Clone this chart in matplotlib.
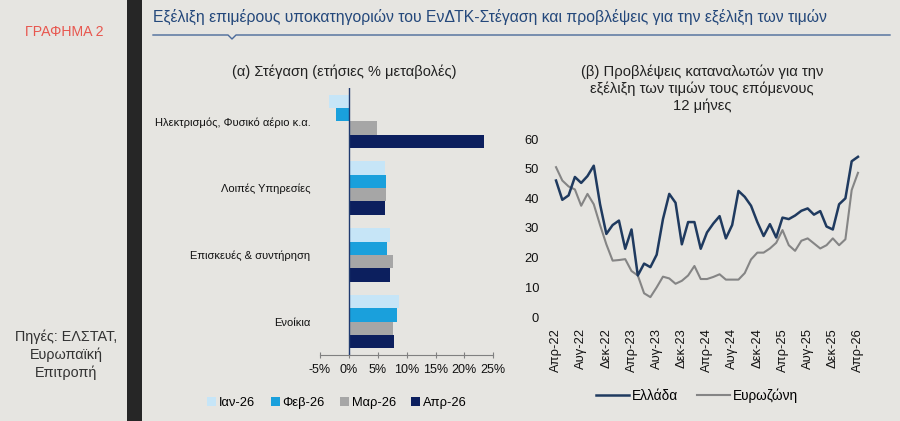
import numpy as np
import matplotlib.pyplot as plt
from matplotlib.patches import Rectangle, Patch
from matplotlib.lines import Line2D

plt.rcParams['font.family'] = ['Liberation Sans', 'DejaVu Sans']

BG = '#e6e5e1'

# (a) housing components, annual % change
categories = ['Ηλεκτρισμός, Φυσικό αέριο κ.α.', 'Λοιπές Υπηρεσίες',
              'Επισκευές & συντήρηση', 'Ενοίκια']
months = ['Ιαν-26', 'Φεβ-26', 'Μαρ-26', 'Απρ-26']
jan26 = [-3.5, 6.2, 7.1, 8.7]
feb26 = [-2.2, 6.4, 6.6, 8.3]
mar26 = [4.9, 6.5, 7.7, 7.6]
apr26 = [23.4, 6.2, 7.2, 7.8]
bar_colors = ['#c6e5f7', '#1aa0dc', '#a6a6a6', '#0c1f5e']

# (b) consumer price expectations, monthly Apr-22 .. Apr-26
greece = [46, 39.5, 41, 47.2, 45.2, 47.5, 51, 38, 28, 31,
          32.5, 23, 29.5, 14, 18, 16.8, 21, 33, 41.5, 38.5,
          24.5, 32, 32, 23, 28.5, 31.5, 34, 26.5, 31, 42.5,
          40.5, 37.5, 32, 27.3, 31.3, 26.8, 33.5, 33, 34.2, 35.8,
          36.6, 34.5, 35.7, 30.5, 29.5, 38, 40, 52.5, 54]
euro = [50.5, 46, 44, 43, 37.5, 41.5, 38, 31, 24.5, 19,
        19.2, 19.5, 15.5, 14, 8, 6.7, 10, 13.6, 13, 11.2,
        12.2, 14, 17.2, 12.8, 12.8, 13.5, 14.4, 12.6, 12.6, 12.6,
        14.8, 19.4, 21.7, 21.7, 23.1, 25, 29.3, 24.2, 22.3, 25.7,
        26.5, 24.8, 23.1, 24.2, 26.5, 24.2, 26.2, 42.8, 48.6]
xtick_labels = ['Απρ-22', 'Αυγ-22', 'Δεκ-22', 'Απρ-23', 'Αυγ-23', 'Δεκ-23',
                'Απρ-24', 'Αυγ-24', 'Δεκ-24', 'Απρ-25', 'Αυγ-25', 'Δεκ-25',
                'Απρ-26']

fig = plt.figure(figsize=(9, 4.21), dpi=100, facecolor=BG)

# side strip and header
fig.patches.append(Rectangle((127 / 900, 0), 15 / 900, 1, transform=fig.transFigure,
                             facecolor='#262626', edgecolor='none'))
fig.text(64 / 900, 1 - 32 / 421, 'ΓΡΑΦΗΜΑ 2', color='#e8574f', fontsize=10.2,
         ha='center', va='center')
fig.text(66 / 900, 1 - 355 / 421, 'Πηγές: ΕΛΣΤΑΤ,\nΕυρωπαϊκή\nΕπιτροπή', color='#333333',
         fontsize=10.4, ha='center', va='center', linespacing=1.3)
fig.text(153 / 900, 1 - 17 / 421,
         'Εξέλιξη επιμέρους υποκατηγοριών του ΕνΔΤΚ-Στέγαση και προβλέψεις για την εξέλιξη των τιμών',
         color='#24487b', fontsize=11.3, ha='left', va='center')
ux = np.array([153, 228, 232, 236, 890]) / 900
uy = 1 - np.array([35, 35, 39, 35, 35]) / 421
fig.lines.append(Line2D(ux, uy, transform=fig.transFigure, color='#4a6a9a', lw=1))

# (a) bar chart
ax1 = fig.add_axes([320 / 900, 1 - 355 / 421, 173.3 / 900, 267 / 421])
ax1.set_facecolor(BG)
y = np.arange(len(categories))
h = 0.2
for k, (vals, lab) in enumerate(zip([jan26, feb26, mar26, apr26], months)):
    ax1.barh(y - 0.3 + k * h, vals, height=h, color=bar_colors[k], label=lab)
ax1.set_ylim(3.5, -0.5)
ax1.set_xlim(-5, 25)
ax1.axvline(0, color='#1f3a6f', lw=1)
ax1.set_yticks(y)
ax1.set_yticklabels(categories, fontsize=8, color='#111111')
ax1.tick_params(axis='y', length=0, pad=7)
ax1.set_xticks(np.arange(-5, 26, 5))
ax1.set_xticklabels([f'{v}%' for v in range(-5, 26, 5)], fontsize=9, color='#111111')
ax1.tick_params(axis='x', direction='inout', length=5, color='#808080', pad=4)
for s in ['top', 'right', 'left']:
    ax1.spines[s].set_visible(False)
ax1.spines['bottom'].set_color('#808080')
fig.text(344 / 900, 1 - 72 / 421, '(α) Στέγαση (ετήσιες % μεταβολές)', fontsize=10.5,
         color='#222222', ha='center', va='center')
handles = [Patch(facecolor=c, edgecolor='none') for c in bar_colors]
fig.legend(handles, months, loc='center', bbox_to_anchor=(337 / 900, 1 - 403 / 421),
           ncol=4, frameon=False, fontsize=9.3, handlelength=0.7, handleheight=0.7,
           handletextpad=0.2, columnspacing=1.2)

# (b) line chart
ax2 = fig.add_axes([553 / 900, 1 - 317 / 421, 308 / 900, 178 / 421])
ax2.set_facecolor(BG)
t = np.arange(len(greece))
ax2.plot(t, greece, color='#1f3a5f', lw=1.8, solid_joinstyle='round', label='Ελλάδα', zorder=3)
ax2.plot(t, euro, color='#858585', lw=1.5, solid_joinstyle='round', label='Ευρωζώνη')
ax2.set_xlim(-0.48, 48.48)
ax2.set_ylim(0, 60)
ax2.set_yticks(np.arange(0, 61, 10))
ax2.tick_params(axis='y', length=0, pad=10, labelsize=9.3, labelcolor='#111111')
ax2.set_xticks(np.arange(0, 49, 4))
ax2.set_xticklabels(xtick_labels, rotation=90, fontsize=9.3, color='#111111')
ax2.tick_params(axis='x', length=0, pad=8)
for s in ax2.spines.values():
    s.set_visible(False)
fig.text(702 / 900, 1 - 89 / 421,
         '(β) Προβλέψεις καταναλωτών για την\nεξέλιξη των τιμών τους επόμενους\n12 μήνες',
         fontsize=10.6, color='#222222', ha='center', va='center', linespacing=1.2)
h2, l2 = ax2.get_legend_handles_labels()
fig.legend(h2, l2, loc='center', bbox_to_anchor=(697 / 900, 1 - 396 / 421), ncol=2,
           frameon=False, fontsize=9.8, handlelength=2.4, handletextpad=0.2,
           columnspacing=1.4)

fig.savefig('out.png', dpi=100, facecolor=BG)
